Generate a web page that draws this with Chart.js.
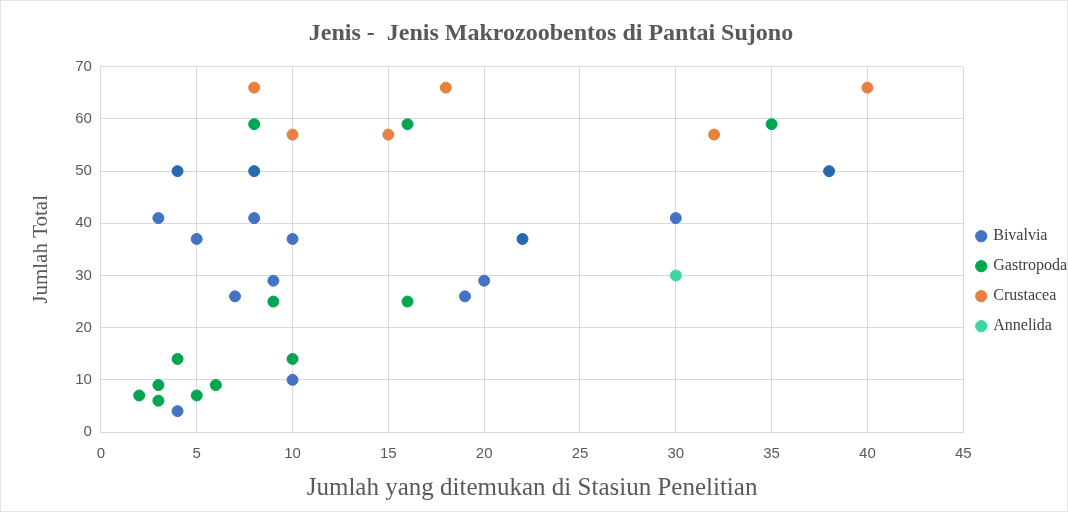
<!DOCTYPE html>
<html>
<head>
<meta charset="utf-8">
<script src="https://cdn.jsdelivr.net/npm/chart.js@4.4.1/dist/chart.umd.min.js"></script>
<style>
  html, body { margin: 0; padding: 0; background: #fff; }
  #wrap { position: relative; width: 1068px; height: 512px; box-sizing: border-box; border: 1px solid #e6e6e6; }
</style>
</head>
<body>
<div id="wrap"><canvas id="scatterChart"></canvas></div>
<script>
// Data: [jumlah di stasiun, jumlah total]
const bivalviaX = [4, 8, 3, 8, 5, 10, 22, 30, 38, 9, 7, 19, 20, 10, 4];
const bivalviaY = [50, 50, 41, 41, 37, 37, 37, 41, 50, 29, 26, 26, 29, 10, 4];
const gastropodaX = [8, 16, 35, 9, 16, 4, 10, 3, 6, 2, 5, 3];
const gastropodaY = [59, 59, 59, 25, 25, 14, 14, 9, 9, 7, 7, 6];
const crustaceaX = [8, 18, 40, 10, 15, 32];
const crustaceaY = [66, 66, 66, 57, 57, 57];
const annelidaX = [30];
const annelidaY = [30];

const xTicks = [0, 5, 10, 15, 20, 25, 30, 35, 40, 45];
const yTicks = [0, 10, 20, 30, 40, 50, 60, 70];

const toPoints = (xs, ys) => xs.map((x, i) => ({ x: x, y: ys[i] }));

// beberapa titik bivalvia tampak lebih gelap di gambar
const blue = '#4472C4';
const darkBlue = '#2569AE';
const bivalviaColors = bivalviaY.map((y, i) => (y === 50 || bivalviaX[i] === 22) ? darkBlue : blue);

const serif = '"Liberation Serif", "DejaVu Serif", serif';
const sans = '"Liberation Sans", Arial, sans-serif';
const textGray = '#595959';
const gridColor = '#d9d9d9';

const ctx = document.getElementById('scatterChart').getContext('2d');
new Chart(ctx, {
    type: 'scatter',
    data: {
        datasets: [
            {
                label: 'Bivalvia',
                data: toPoints(bivalviaX, bivalviaY),
                backgroundColor: bivalviaColors,
                borderColor: bivalviaColors,
                pointRadius: 5.5
            },
            {
                label: 'Gastropoda',
                data: toPoints(gastropodaX, gastropodaY),
                backgroundColor: '#00A650',
                borderColor: '#00A650',
                pointRadius: 5.5
            },
            {
                label: 'Crustacea',
                data: toPoints(crustaceaX, crustaceaY),
                backgroundColor: '#E8803F',
                borderColor: '#E8803F',
                pointRadius: 5.5
            },
            {
                label: 'Annelida',
                data: toPoints(annelidaX, annelidaY),
                backgroundColor: '#3DD6A0',
                borderColor: '#3DD6A0',
                pointRadius: 5.5
            }
        ]
    },
    options: {
        responsive: true,
        maintainAspectRatio: false,
        animation: false,
        layout: {
            padding: { left: 24, right: -10, top: 8, bottom: 6 }
        },
        plugins: {
            title: {
                display: true,
                text: 'Jenis -  Jenis Makrozoobentos di Pantai Sujono',
                color: textGray,
                font: { family: serif, size: 24, weight: 'bold' },
                padding: { top: 10, bottom: 19 }
            },
            legend: {
                position: 'right',
                align: 'center',
                title: {
                    display: true,
                    text: '',
                    font: { size: 12 },
                    padding: { top: 18, bottom: 16 }
                },
                labels: {
                    usePointStyle: true,
                    pointStyle: 'circle',
                    boxWidth: 8,
                    boxHeight: 8,
                    padding: 14,
                    color: '#404040',
                    font: { family: serif, size: 16 },
                    generateLabels: (chart) => {
                        const items = Chart.defaults.plugins.legend.labels.generateLabels(chart);
                        items[0].fillStyle = blue;
                        items[0].strokeStyle = blue;
                        return items;
                    }
                }
            },
            tooltip: { enabled: false }
        },
        scales: {
            x: {
                type: 'linear',
                min: 0,
                max: 45,
                afterBuildTicks: (axis) => { axis.ticks = xTicks.map(v => ({ value: v })); },
                ticks: {
                    color: textGray,
                    font: { family: sans, size: 15 },
                    padding: 13
                },
                grid: { color: gridColor, drawTicks: false },
                border: { color: gridColor },
                title: {
                    display: true,
                    text: 'Jumlah yang ditemukan di Stasiun Penelitian',
                    color: textGray,
                    font: { family: serif, size: 25, lineHeight: 1.0 },
                    padding: { top: 0 }
                }
            },
            y: {
                type: 'linear',
                min: 0,
                max: 70,
                afterBuildTicks: (axis) => { axis.ticks = yTicks.map(v => ({ value: v })); },
                ticks: {
                    color: textGray,
                    font: { family: sans, size: 15 },
                    padding: 9
                },
                grid: { color: gridColor, drawTicks: false },
                border: { color: gridColor },
                title: {
                    display: true,
                    text: 'Jumlah Total',
                    color: textGray,
                    font: { family: serif, size: 21 },
                    padding: { bottom: 12 }
                }
            }
        }
    }
});
</script>
</body>
</html>
